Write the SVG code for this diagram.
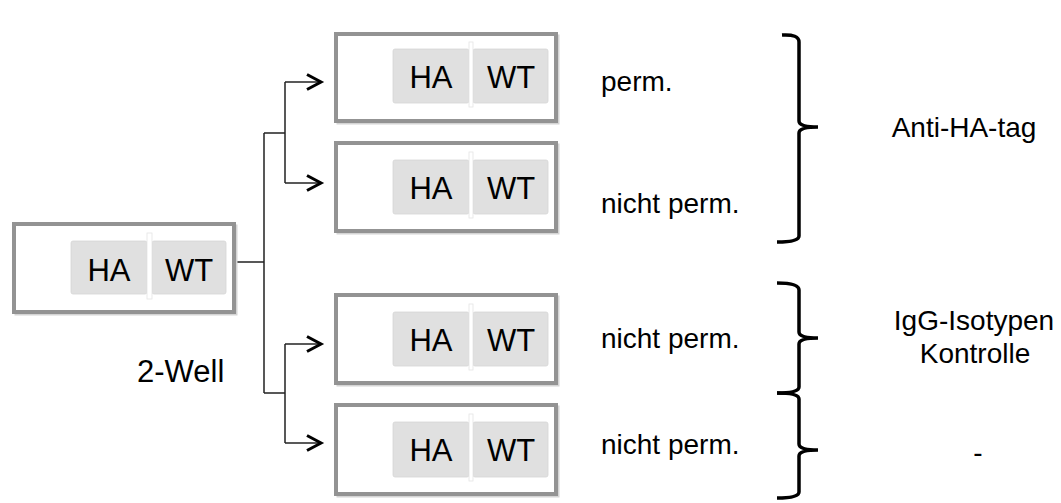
<svg xmlns="http://www.w3.org/2000/svg" width="1061" height="503" viewBox="0 0 1061 503">
<style>
.box{fill:#fff;stroke:#939393;stroke-width:4}
.shadow{fill:none;stroke:#d4d4d4;stroke-width:3}
.blk{fill:#e0e0e0;stroke:#d6d6d6;stroke-width:0.8}
.div{fill:#fff;stroke:#e4e4e4;stroke-width:0.8}
.t{font-family:"Liberation Sans",Arial,sans-serif;fill:#000}
.in{font-size:31px;text-anchor:middle}
.lb{font-size:28px}
.conn{fill:none;stroke:#222;stroke-width:1.5}
.brace{fill:none;stroke:#000;stroke-width:3.5;stroke-linecap:butt}
</style>
<defs>
<marker id="arr" markerUnits="userSpaceOnUse" markerWidth="22" markerHeight="22" viewBox="-18 -11 22 22" refX="0" refY="0" orient="auto">
<path d="M-14,-7.5 L0,0 L-14,7.5" fill="none" stroke="#000" stroke-width="3"/>
</marker>
</defs>

<g id="connectors">
<path class="conn" d="M236,262 H264 M264,133 V393 M264,133 H285 M285,82 V183 M264,393 H285 M285,344 V443"/>
<path class="conn" d="M285,82 H321" marker-end="url(#arr)"/>
<path class="conn" d="M285,183 H321" marker-end="url(#arr)"/>
<path class="conn" d="M285,344 H321" marker-end="url(#arr)"/>
<path class="conn" d="M285,443 H321" marker-end="url(#arr)"/>
</g>

<g id="well-main">
<rect class="shadow" x="16" y="226" width="220" height="88"/>
<rect class="box" x="14" y="224" width="220" height="88"/>
<rect class="blk" x="71" y="241" width="76" height="53" rx="2"/>
<rect class="blk" x="152" y="241" width="74" height="53" rx="2"/>
<rect class="div" x="147" y="233" width="5" height="66"/>
<text class="t in" x="109" y="281">HA</text>
<text class="t in" x="189" y="281">WT</text>
</g>

<g id="well-1">
<rect class="shadow" x="338" y="36" width="220" height="87"/>
<rect class="box" x="336" y="34" width="220" height="87"/>
<rect class="blk" x="393" y="49" width="76" height="54" rx="2"/>
<rect class="blk" x="473" y="49" width="75" height="54" rx="2"/>
<rect class="div" x="469" y="42" width="4" height="65"/>
<text class="t in" x="431" y="88">HA</text>
<text class="t in" x="511" y="88">WT</text>
</g>

<g id="well-2">
<rect class="shadow" x="338" y="145" width="220" height="88"/>
<rect class="box" x="336" y="143" width="220" height="88"/>
<rect class="blk" x="393" y="160" width="76" height="54" rx="2"/>
<rect class="blk" x="473" y="160" width="75" height="54" rx="2"/>
<rect class="div" x="469" y="152" width="4" height="66"/>
<text class="t in" x="431" y="199">HA</text>
<text class="t in" x="511" y="199">WT</text>
</g>

<g id="well-3">
<rect class="shadow" x="338" y="297" width="220" height="88"/>
<rect class="box" x="336" y="295" width="220" height="88"/>
<rect class="blk" x="393" y="312" width="76" height="54" rx="2"/>
<rect class="blk" x="473" y="312" width="75" height="54" rx="2"/>
<rect class="div" x="469" y="304" width="4" height="66"/>
<text class="t in" x="431" y="351">HA</text>
<text class="t in" x="511" y="351">WT</text>
</g>

<g id="well-4">
<rect class="shadow" x="338" y="407" width="220" height="89"/>
<rect class="box" x="336" y="405" width="220" height="89"/>
<rect class="blk" x="393" y="422" width="76" height="55" rx="2"/>
<rect class="blk" x="473" y="422" width="75" height="55" rx="2"/>
<rect class="div" x="469" y="414" width="4" height="67"/>
<text class="t in" x="431" y="461">HA</text>
<text class="t in" x="511" y="461">WT</text>
</g>

<g id="label-2well">
<text class="t" x="137" y="382" font-size="31">2-Well</text>
</g>

<g id="labels-perm">
<text class="t lb" x="601" y="91">perm.</text>
<text class="t lb" x="601" y="213">nicht perm.</text>
<text class="t lb" x="601" y="348">nicht perm.</text>
<text class="t lb" x="601" y="454">nicht perm.</text>
</g>

<g id="brace-1">
<path class="brace" d="M782,35 Q799,34 799,42 V121 Q799,127 818,127 Q799,127 799,133 V236 Q799,242 777,242"/>
</g>
<g id="brace-2">
<path class="brace" d="M777,283 Q799,283 799,290 V332 Q799,338 818,338 Q799,338 799,344 V387 Q799,393 777,393"/>
</g>
<g id="brace-3">
<path class="brace" d="M777,393 Q799,393 799,399 V444 Q799,450 818,450 Q799,450 799,456 V492 Q799,498 777,498"/>
</g>

<g id="labels-antibody">
<text class="t lb" x="964" y="137" text-anchor="middle">Anti-HA-tag</text>
<text class="t lb" x="974" y="330" text-anchor="middle">IgG-Isotypen</text>
<text class="t lb" x="975" y="363" text-anchor="middle">Kontrolle</text>
<text class="t lb" x="978" y="462" text-anchor="middle">-</text>
</g>
</svg>
